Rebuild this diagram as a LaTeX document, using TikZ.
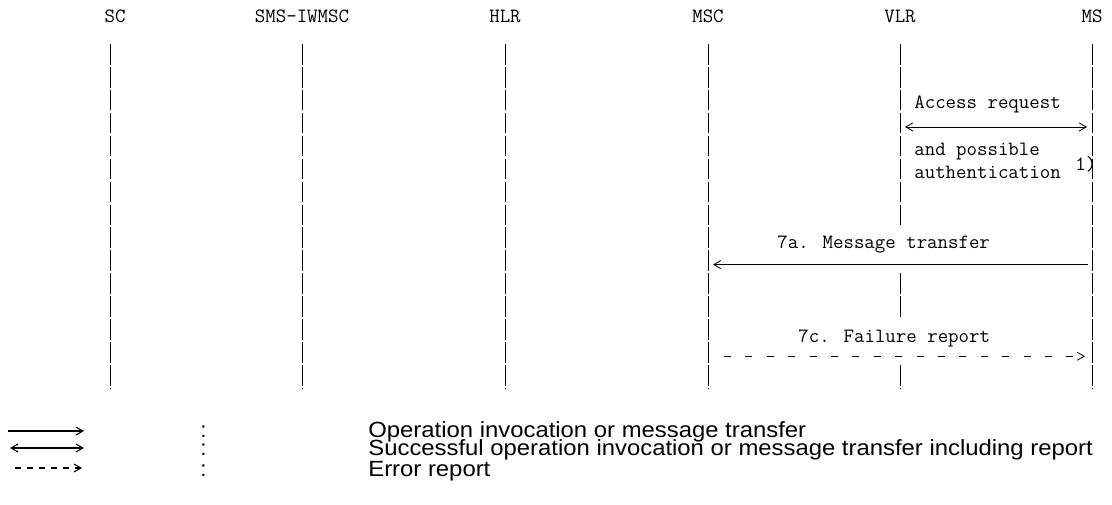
\documentclass[tikz,border=0pt]{standalone}
\usepackage{fontspec}
\setmainfont{Liberation Sans}
\usetikzlibrary{arrows.meta}

\tikzset{every picture/.style={line width=0.75pt}}

\begin{document}
\begin{tikzpicture}[
            x=1pt,
            y=1pt,
            yscale=-1,
            xscale=1,
            every node/.style={text=black, inner sep=0pt},
            line width=0.75pt,
            entity/.style={font=\fontsize{20.3}{22}\selectfont\ttfamily, anchor=base},
            msgtext/.style={font=\fontsize{20.3}{22}\selectfont\ttfamily, anchor=base west},
            legtext/.style={font=\fontsize{22}{24}\selectfont, anchor=base west},
            lifeline/.style={draw=black, line width=0.9pt, dash pattern={on 20.6pt off 2.33pt}},
            msgline/.style={draw=black, line width=0.8pt},
            legline/.style={draw=black, line width=1.3pt},
            chev/.tip={Straight Barb[length=7pt, width=8pt, line width=0.8pt]},
            lchev/.tip={Straight Barb[length=7pt, width=8pt, line width=1.1pt]}
        ]
            \useasboundingbox (0,0) rectangle (1112,504);

            % rows of the chart
            \foreach \i in {0,...,15}
                \coordinate (r\i) at (0,{44+22.93*\i});
            \foreach \i in {0,...,14}
                \coordinate (m\i) at (0,{44+22.93*(\i+0.5)+2.7});

            % entities and lifelines
            \foreach \name/\x in {sc/110, iwmsc/302, hlr/505, msc/708, vlr/900, ms/1092}{
                \coordinate (\name-top) at (\x,44);
                \coordinate (\name-bot) at (\x,388);
            }
            \node[entity] (sc) at (115,22.5) {SC};
            \node[entity] (iwmsc) at (302,22.5) {SMS-IWMSC};
            \node[entity] (hlr) at (505,22.5) {HLR};
            \node[entity] (msc) at (708,22.5) {MSC};
            \node[entity] (vlr) at (900,22.5) {VLR};
            \node[entity] (ms) at (1092,22.5) {MS};

            \foreach \name in {sc,iwmsc,hlr,msc,ms}
                \draw[lifeline] (\name-top) -- (\name-bot);
            \draw[lifeline] (vlr-top) -- (vlr-top |- r8);
            \draw[lifeline] (vlr-top |- r10) -- (vlr-top |- r12);
            \draw[lifeline] (vlr-top |- r14) -- (vlr-bot);

            % messages
            \node[msgtext] (acc1) at (914,108) {Access request};
            \draw[msgline, chev-chev, shorten <=5pt, shorten >=5pt] (vlr-top |- m3) -- (ms-top |- m3);
            \node[msgtext] (acc2) at (914,155.5) {and possible};
            \node[msgtext] (acc3) at (914,178.5) {authentication};
            \node[msgtext] (note1) at (1075,170) {1)};

            \node[msgtext] (msg7a) at (777,248) {7a. Message transfer};
            \draw[msgline, -chev, shorten <=4pt, shorten >=5pt] (ms-top |- m9) -- (msc-top |- m9);

            \node[msgtext] (msg7c) at (798,342) {7c. Failure report};
            \draw[msgline, -chev, dash pattern={on 7pt off 14.4pt}, shorten <=16pt, shorten >=7pt] (msc-top |- m13) -- (ms-top |- m13);

            % legend
            \coordinate (l1a) at (8,431);
            \coordinate (l1b) at (84,431);
            \coordinate (l2a) at (10,448);
            \coordinate (l2b) at (84,448);
            \coordinate (l3a) at (15,468);
            \coordinate (l3b) at (82,468);
            \draw[legline, -lchev] (l1a) -- (l1b);
            \draw[legline, lchev-lchev] (l2a) -- (l2b);
            \draw[legline, -lchev, dash pattern={on 6pt off 6pt}] (l3a) -- (l3b);

            \node[legtext] (col1) at (200,437) {:};
            \node[legtext] (col2) at (200,455) {:};
            \node[legtext] (col3) at (200,476) {:};
            \node[legtext] (leg1) at (368,437) {\scalebox{1.085}[1]{Operation invocation or message transfer}};
            \node[legtext] (leg2) at (368,455) {\scalebox{1.085}[1]{Successful operation invocation or message transfer including report}};
            \node[legtext] (leg3) at (368,476) {\scalebox{1.085}[1]{Error report}};
        \end{tikzpicture}
\end{document}
